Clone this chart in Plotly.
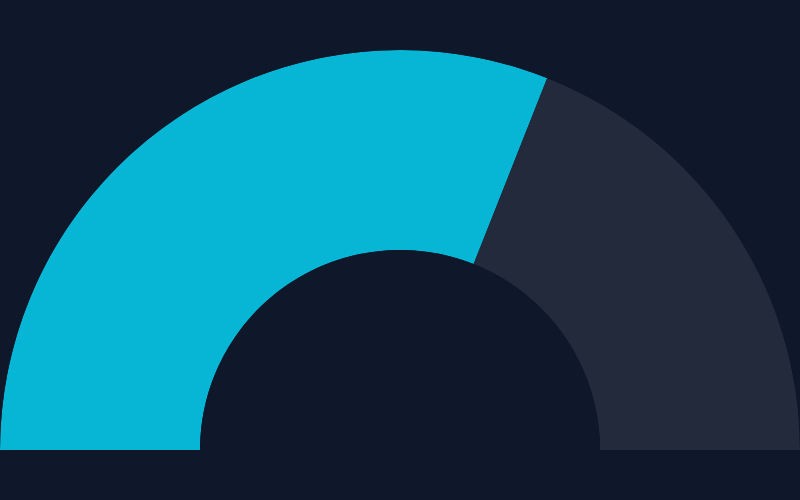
import plotly.graph_objects as go

# gauge data
gauge_value = 62
gauge_max = 100

segments = ["Value", "Remaining"]
segment_values = [gauge_value, gauge_max - gauge_value]
segment_colors = ["#06b6d4", "#232a3c"]

# angular positions of each segment on a 0-180 deg half circle (value starts at left)
thetas = []
widths = []
start = 180.0
for v in segment_values:
    span = v / gauge_max * 180.0
    thetas.append(start - span / 2)
    widths.append(span)
    start -= span

fig = go.Figure()
for name, theta, width, color in zip(segments, thetas, widths, segment_colors):
    fig.add_trace(go.Barpolar(
        r=[1],
        theta=[theta],
        width=[width],
        name=name,
        marker_color=color,
        marker_line_width=0,
        hoverinfo="skip",
    ))

fig.update_layout(
    width=800,
    height=500,
    paper_bgcolor="#0f172a",
    plot_bgcolor="#0f172a",
    showlegend=False,
    margin=dict(l=0, r=0, t=50, b=50),
    polar=dict(
        domain=dict(x=[0, 1], y=[0, 1]),
        sector=[0, 180],
        hole=0.5,
        bgcolor="#0f172a",
        radialaxis=dict(visible=False, range=[0, 1]),
        angularaxis=dict(visible=False, rotation=0, direction="counterclockwise"),
    ),
    barmode="overlay",
)

# remove the default page margin so the figure fills the window
fig.write_html(
    "out.html",
    config={"displayModeBar": False},
    post_script="document.body.style.margin='0';document.body.style.background='#0f172a';",
)
